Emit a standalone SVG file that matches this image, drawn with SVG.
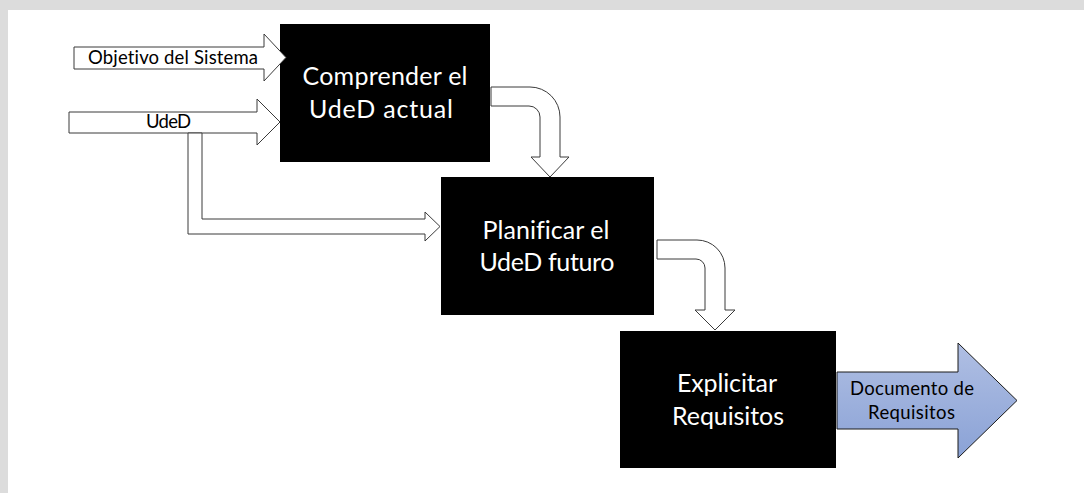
<svg xmlns="http://www.w3.org/2000/svg" width="1084" height="493" viewBox="0 0 1084 493">
  <defs>
    <linearGradient id="blueFill" x1="0" y1="0" x2="0" y2="1">
      <stop offset="0" stop-color="#b0bfe3"/>
      <stop offset="1" stop-color="#8aa2d6"/>
    </linearGradient>
    <style>
      .frame { fill: #dcdcdc; }
      .page { fill: #ffffff; }
      .box { fill: #000000; }
      .box-label { font-family: Lato, "Liberation Sans", sans-serif; font-size: 25px; fill: #ffffff; text-anchor: middle; font-variant-ligatures: none; }
      .flow { fill: #ffffff; stroke: #3a3a3a; stroke-width: 1; stroke-linejoin: miter; }
      .output { fill: url(#blueFill); stroke: #1a1a1a; stroke-width: 1; }
      .flow-label { font-family: Lato, "Liberation Sans", sans-serif; font-size: 18.5px; fill: #000000; text-anchor: middle; font-variant-ligatures: none; }
    </style>
  </defs>

  <!-- page background with grey border -->
  <rect class="frame" x="0" y="0" width="1084" height="493"/>
  <rect class="page" x="8" y="10" width="1076" height="483"/>

  <!-- process steps -->
  <g id="node-comprender">
    <rect class="box" x="280" y="24" width="210" height="138"/>
    <text class="box-label" x="385" y="85" textLength="165">Comprender el</text>
    <text class="box-label" x="381" y="118" textLength="144">UdeD actual</text>
  </g>

  <g id="node-planificar">
    <rect class="box" x="441" y="177" width="213" height="138"/>
    <text class="box-label" x="546" y="239" textLength="127">Planificar el</text>
    <text class="box-label" x="547" y="271" textLength="135">UdeD futuro</text>
  </g>

  <g id="node-explicitar">
    <rect class="box" x="620" y="331" width="216" height="137"/>
    <text class="box-label" x="727" y="392" textLength="100">Explicitar</text>
    <text class="box-label" x="728" y="425" textLength="112">Requisitos</text>
  </g>

  <!-- block arrows between the steps -->
  <g id="connectors">
    <!-- input: system objective -->
    <g id="in-objetivo">
      <path class="flow" d="M74 47 H264 V34 L286 57.5 L264 81 V69 H74 Z"/>
      <text class="flow-label" x="173" y="64" textLength="170">Objetivo del Sistema</text>
    </g>

    <!-- input: UdeD -->
    <g id="in-uded">
      <path class="flow" d="M69 112 H257 V99 L280 122 L257 145 V133 H69 Z"/>
      <text class="flow-label" x="168.5" y="128" textLength="45">UdeD</text>
    </g>

    <!-- UdeD branch down to the planning step -->
    <path id="uded-branch" class="flow" d="M188 133 H202 V219 H425 V212 L440 226.5 L425 241 V234 H188 Z"/>

    <!-- step 1 to step 2 -->
    <path id="c1-c2" class="flow" d="M491 87 H530 A30 30 0 0 1 560 117 V157 H569 L550 177 L531 157 H540 V117 A11 11 0 0 0 529 106 H491 Z"/>

    <!-- step 2 to step 3 -->
    <path id="c2-c3" class="flow" d="M657 240 H697 A28 28 0 0 1 725 268 V310 H735 L715 330 L695 310 H705 V268 A9 9 0 0 0 696 259 H657 Z"/>

    <!-- output: requirements document -->
    <g id="out-documento">
      <path class="output" d="M837 372 H958 V343 L1017 400.5 L958 458 V429 H837 Z"/>
      <text class="flow-label" x="912" y="395" textLength="124">Documento de</text>
      <text class="flow-label" x="911.5" y="419" textLength="87">Requisitos</text>
    </g>
  </g>
</svg>
